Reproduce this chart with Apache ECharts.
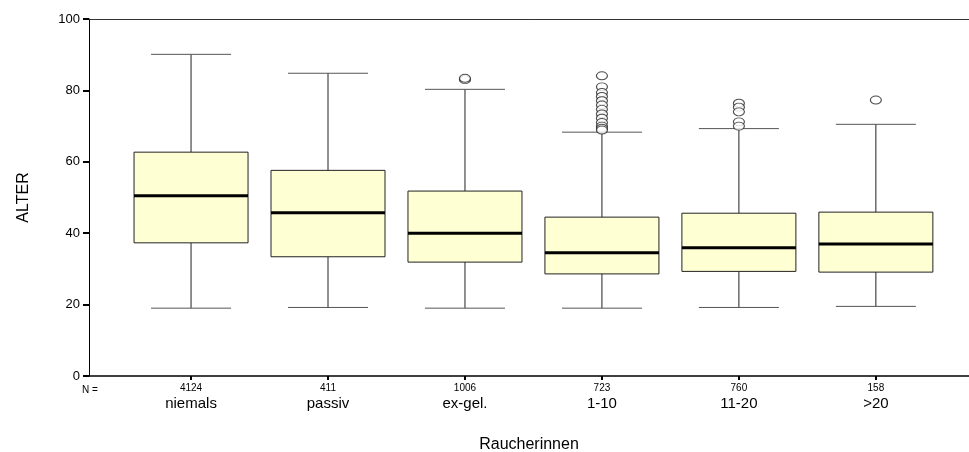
<!DOCTYPE html>
<html>
<head>
<meta charset="utf-8">
<script src="https://cdn.jsdelivr.net/npm/echarts@6/dist/echarts.min.js"></script>
<style>
  html, body { margin: 0; padding: 0; background: #fff; }
  #main { width: 969px; height: 452px; }
</style>
</head>
<body>
<div id="main"></div>
<script>
var categories = ['niemals', 'passiv', 'ex-gel.', '1-10', '11-20', '>20'];
var counts = [4124, 411, 1006, 723, 760, 158];

// box statistics (ALTER)
var lowWhisker  = [19.0, 19.2, 19.0, 19.0, 19.2, 19.5];
var q1          = [37.3, 33.4, 31.9, 28.6, 29.3, 29.1];
var median      = [50.5, 45.7, 40.0, 34.5, 35.9, 37.0];
var q3          = [62.7, 57.6, 51.8, 44.5, 45.6, 45.9];
var highWhisker = [90.1, 84.8, 80.3, 68.3, 69.3, 70.5];

// outliers per group (index into categories)
var outliersExGel = [83.0, 83.4];
var outliers1to10 = [84.1, 81.0, 79.4, 78.3, 77.1, 75.9, 74.7, 73.4, 72.2, 71.0, 70.0, 69.4, 68.9];
var outliers11to20 = [76.4, 75.3, 74.0, 71.2, 70.0];
var outliersOver20 = [77.3];

var yTicks = [0, 20, 40, 60, 80, 100];

var boxData = categories.map(function (c, i) {
    return [i, lowWhisker[i], q1[i], median[i], q3[i], highWhisker[i]];
});

var outlierData = [];
outliersExGel.forEach(function (v) { outlierData.push([2, v]); });
outliers1to10.forEach(function (v) { outlierData.push([3, v]); });
outliers11to20.forEach(function (v) { outlierData.push([4, v]); });
outliersOver20.forEach(function (v) { outlierData.push([5, v]); });

var FONT = 'Liberation Sans';
var BOX_W = 114;
var CAP_W = 80;

function renderBox(params, api) {
    var x = api.value(0);
    var lo = api.coord([x, api.value(1)]);
    var b1 = api.coord([x, api.value(2)]);
    var md = api.coord([x, api.value(3)]);
    var b3 = api.coord([x, api.value(4)]);
    var hi = api.coord([x, api.value(5)]);
    var cx = lo[0];
    var lineStyle = { stroke: '#222', lineWidth: 1 };
    return {
        type: 'group',
        children: [
            { type: 'line', shape: { x1: cx, y1: hi[1], x2: cx, y2: b3[1] }, style: lineStyle },
            { type: 'line', shape: { x1: cx, y1: b1[1], x2: cx, y2: lo[1] }, style: lineStyle },
            { type: 'line', shape: { x1: cx - CAP_W / 2, y1: hi[1], x2: cx + CAP_W / 2, y2: hi[1] }, style: { stroke: '#555', lineWidth: 1 } },
            { type: 'line', shape: { x1: cx - CAP_W / 2, y1: lo[1], x2: cx + CAP_W / 2, y2: lo[1] }, style: { stroke: '#555', lineWidth: 1 } },
            { type: 'rect', shape: { x: cx - BOX_W / 2, y: b3[1], width: BOX_W, height: b1[1] - b3[1] },
              style: { fill: '#FFFFD4', stroke: '#222', lineWidth: 1 } },
            { type: 'line', shape: { x1: cx - BOX_W / 2, y1: md[1], x2: cx + BOX_W / 2, y2: md[1] }, style: { stroke: '#000', lineWidth: 3 } }
        ]
    };
}

var myChart = echarts.init(document.getElementById('main'));

var option = {
    backgroundColor: '#fff',
    animation: false,
    textStyle: { fontFamily: FONT },
    grid: { left: 89, right: 0, top: 19, bottom: 76, outerBoundsMode: 'none', containLabel: false },
    title: {
        text: 'N =',
        left: 77,
        top: 380,
        textStyle: { fontFamily: FONT, fontSize: 10, fontWeight: 'normal', color: '#000' }
    },
    xAxis: [{
        type: 'value',
        min: -0.745,
        max: 5.68,
        name: 'Raucherinnen',
        nameLocation: 'middle',
        nameGap: 61,
        nameMoveOverlap: false,
        nameTextStyle: { fontFamily: FONT, fontSize: 16, color: '#000' },
        splitLine: { show: false },
        axisLine: { show: true, onZero: false, lineStyle: { color: '#000', width: 1.5 } },
        axisTick: { show: true, customValues: [0, 1, 2, 3, 4, 5], length: 4, lineStyle: { color: '#000', width: 2 } },
        axisLabel: {
            customValues: [0, 1, 2, 3, 4, 5],
            margin: 5,
            color: '#000',
            formatter: function (v) {
                var i = Math.round(v);
                return '{n|' + counts[i] + '}\n{c|' + categories[i] + '}';
            },
            rich: {
                n: { fontFamily: FONT, fontSize: 10, lineHeight: 14, color: '#000' },
                c: { fontFamily: FONT, fontSize: 15, lineHeight: 17, color: '#000' }
            }
        }
    }, {
        type: 'value',
        position: 'top',
        min: -0.745,
        max: 5.68,
        splitLine: { show: false },
        axisLine: { show: true, onZero: false, lineStyle: { color: '#333', width: 1 } },
        axisTick: { show: false },
        axisLabel: { show: false }
    }],
    yAxis: {
        type: 'value',
        min: 0,
        max: 100,
        interval: 20,
        name: 'ALTER',
        nameLocation: 'middle',
        nameRotate: 90,
        nameGap: 57,
        nameMoveOverlap: false,
        nameTextStyle: { fontFamily: FONT, fontSize: 16, color: '#000' },
        splitLine: { show: false },
        axisLine: { show: true, onZero: false, lineStyle: { color: '#000', width: 1 } },
        axisTick: { show: true, length: 6, lineStyle: { color: '#000', width: 2 } },
        axisLabel: {
            margin: 9,
            fontFamily: FONT,
            fontSize: 13,
            color: '#000',
            customValues: yTicks
        }
    },
    series: [{
        type: 'custom',
        renderItem: renderBox,
        encode: { x: 0, y: [1, 2, 3, 4, 5] },
        data: boxData,
        z: 2
    }, {
        type: 'scatter',
        symbol: 'circle',
        symbolSize: [11, 8],
        itemStyle: { color: '#fff', borderColor: '#222', borderWidth: 1 },
        data: outlierData,
        z: 3
    }]
};

myChart.setOption(option);
</script>
</body>
</html>
